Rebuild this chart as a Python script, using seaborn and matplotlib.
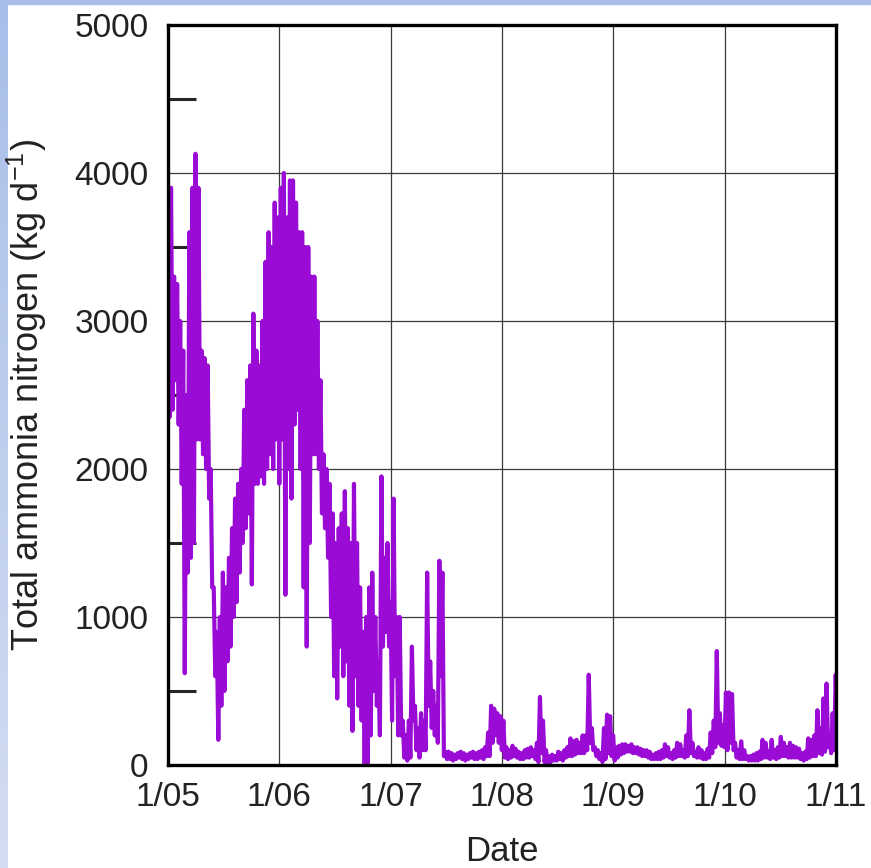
import numpy as np
import pandas as pd
import matplotlib
matplotlib.use("Agg")
import matplotlib.pyplot as plt
import seaborn as sns
from matplotlib.patches import Rectangle
from matplotlib.colors import LinearSegmentedColormap

# ---------------- data ----------------
# Early period (Jan 2005 - mid 2007): upper values at day 0,10,...,910,
# lower values 5 days later (the daily series swings between them)
early_upper = [3950, 3900, 3300, 3250, 3000, 2800, 2500, 3600, 3900, 4130,
               3900, 2800, 2750, 2700, 2000, 1200, 900, 1000, 1300, 1200,
               1400, 1600, 1800, 1900, 2000, 2400, 2600, 2700, 3050, 2800,
               2700, 3000, 3400, 3600, 3500, 3800, 3700, 3900, 4000, 3700,
               3950, 3950, 3800, 3600, 3600, 3500, 3500, 3300, 3300, 3000,
               2600, 2100, 2000, 1900, 1700, 1500, 1600, 1700, 1850, 1600,
               1500, 1900, 1500, 1200, 900, 1000, 1200, 1300, 1000, 700,
               1950, 1400, 1500, 1100, 1800, 1000, 1000, 300, 200, 300,
               800, 400, 250, 350, 300, 1300, 700, 500, 400, 1380,
               1300, 90]
early_lower = [2350, 2400, 2600, 2300, 1900, 620, 1300, 1400, 1500, 2200,
               2200, 2100, 2000, 1800, 1200, 600, 170, 400, 500, 700,
               800, 1000, 1100, 1300, 1500, 1600, 1700, 1220, 1900, 1900,
               1950, 1900, 2000, 2100, 2000, 2200, 1900, 2200, 1150, 2000,
               1800, 2300, 2400, 2000, 1200, 800, 1500, 2100, 2100, 2000,
               1700, 1600, 1400, 1000, 600, 450, 800, 600, 700, 400,
               230, 600, 400, 300, 0, 0, 200, 500, 400, 200,
               800, 900, 800, 300, 600, 200, 200, 50, 30, 50,
               300, 100, 50, 100, 100, 400, 250, 200, 150, 600,
               60, 40]

# Late period (mid 2007 - Jan 2011): upper at day 920,930,...,2190, lower 5 days later
late_upper = [90, 80, 70, 80, 90, 80, 70, 80, 90, 80, 90, 100, 120,
              220, 400, 380, 350, 330, 300, 120, 100, 130, 110, 90, 80, 100,
              110, 120, 100, 150, 460, 300, 100, 60, 70, 60, 90, 80, 100,
              120, 180, 160, 170, 150, 200, 200, 610, 250, 120, 100, 80,
              250, 340, 330, 200, 120, 130, 140, 140, 130, 140, 120, 120,
              110, 100, 100, 90, 70, 80, 90, 100, 140, 120, 80, 100,
              150, 140, 100, 200, 370, 150, 90, 120, 100, 80, 110, 220,
              300, 770, 350, 270, 490, 490, 480, 150, 100, 160, 100, 60,
              60, 70, 80, 90, 170, 150, 90, 170, 100, 120, 190, 150,
              120, 150, 130, 120, 110, 80, 90, 180, 170, 200, 370, 250,
              450, 550, 200, 350, 610]
late_lower = [40, 30, 40, 50, 40, 30, 40, 50, 40, 40, 50, 40, 60,
              60, 150, 200, 150, 100, 50, 40, 50, 60, 50, 40, 40, 50,
              50, 60, 40, 20, 80, 20, 10, 20, 30, 30, 40, 30, 50,
              60, 60, 70, 80, 80, 80, 100, 150, 100, 60, 40, 20,
              40, 80, 60, 30, 50, 70, 80, 90, 90, 80, 80, 70,
              60, 60, 50, 40, 40, 40, 40, 50, 60, 50, 40, 50,
              60, 60, 50, 60, 80, 60, 50, 50, 40, 40, 50, 80,
              120, 150, 130, 120, 100, 150, 100, 50, 40, 40, 40, 30,
              30, 30, 30, 40, 50, 50, 40, 50, 40, 50, 60, 60,
              50, 50, 50, 50, 40, 30, 40, 50, 60, 60, 80, 70,
              90, 120, 80, 100, 200]

year_ticks = ["2005-01-01", "2006-01-01", "2007-01-01", "2008-01-01",
              "2009-01-01", "2010-01-01", "2011-01-01"]
year_labels = ["1/05", "1/06", "1/07", "1/08", "1/09", "1/10", "1/11"]
y_ticks = [0, 1000, 2000, 3000, 4000, 5000]

# ---------------- build the daily-like series ----------------
origin = pd.Timestamp("2005-01-01")
early_days_u = np.arange(len(early_upper)) * 10
late_days_u = 920 + np.arange(len(late_upper)) * 10
days, vals = [], []
for d, u, l in zip(early_days_u, early_upper, early_lower):
    days += [d, d + 5]
    vals += [u, l]
for d, u, l in zip(late_days_u, late_upper, late_lower):
    days += [d, d + 5]
    vals += [u, l]
df = pd.DataFrame({"Date": origin + pd.to_timedelta(np.array(days), unit="D"),
                   "TAN": vals})

# ---------------- figure ----------------
sns.set_theme(style="white")
plt.rcParams["font.family"] = ["Liberation Sans", "DejaVu Sans"]

W, H = 871, 868
fig = plt.figure(figsize=(W / 100, H / 100), dpi=100, facecolor="white")

# light-blue slide border (left strip gradient + top band)
bg = fig.add_axes([0, 0, 7 / W, 1], zorder=-5)
grad = np.linspace(0, 1, 256).reshape(-1, 1)
cm = LinearSegmentedColormap.from_list("bb", ["#a8bee9", "#d3ddf1"])
bg.imshow(grad, aspect="auto", cmap=cm, extent=[0, 1, 0, 1], origin="upper")
bg.set_axis_off()
fig.add_artist(Rectangle((0, 1 - 4 / H), 1, 4 / H, transform=fig.transFigure,
                         color="#a9bfe9", zorder=-4))

ax = fig.add_axes([168 / W, (H - 765) / H, (836 - 168) / W, (765 - 25) / H])
sns.lineplot(data=df, x="Date", y="TAN", ax=ax, color="#9a0cd6",
             linewidth=3.0, estimator=None, sort=True)

ax.set_xlim(pd.Timestamp(year_ticks[0]), pd.Timestamp(year_ticks[-1]))
ax.set_ylim(0, 5000)
ax.set_xticks(pd.to_datetime(year_ticks))
ax.set_xticklabels(year_labels)
ax.set_yticks(y_ticks)
ax.set_yticklabels([str(v) for v in y_ticks])
ax.set_yticks([500, 1500, 2500, 3500, 4500], minor=True)

ax.grid(True, which="major", color="#3a3a3a", linewidth=0.9)
ax.set_axisbelow(True)
for s in ax.spines.values():
    s.set_visible(True)
    s.set_color("black")
    s.set_linewidth(2.4)

ax.tick_params(axis="y", which="major", direction="in", length=38, width=2.2,
               labelsize=24, pad=14, colors="black", labelcolor="#222222")
ax.tick_params(axis="y", which="minor", direction="in", length=20, width=2.2,
               left=True)
ax.tick_params(axis="x", which="major", direction="in", length=36, width=2.2,
               labelsize=24, pad=12, colors="black", labelcolor="#222222")

ax.set_xlabel("Date", fontsize=25, color="#222222", labelpad=16)
ax.set_ylabel("Total ammonia nitrogen (kg d$^{\\mathregular{-1}}$)", fontsize=26,
              color="#222222", labelpad=18)

fig.savefig("out.png", dpi=100, facecolor="white")
